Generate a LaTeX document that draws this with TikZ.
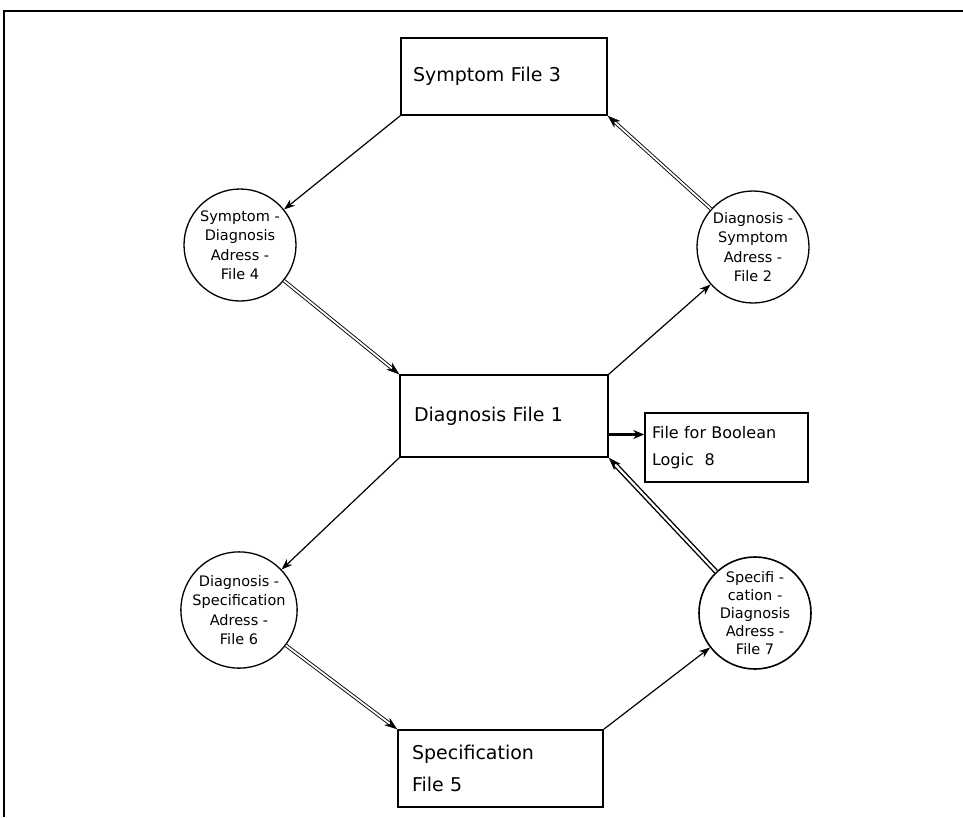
\documentclass[tikz,border=0pt]{standalone}
\usepackage{fontspec}
\setmainfont{DejaVu Sans}
\usetikzlibrary{arrows.meta,decorations.markings}
\begin{document}
\begin{tikzpicture}[x=1pt,y=-1pt,
  box/.style={draw, line width=1.5pt, rectangle, inner ysep=0pt, align=left},
  bigtxt/.style={font=\fontsize{19}{32}\selectfont},
  file/.style={draw, circle, line width=1.3pt, inner sep=0pt, minimum size=112pt, align=center, font=\fontsize{14.5}{19.5}\selectfont},
  arr/.style={line width=1.2pt, -{Stealth[length=11pt,width=8pt]}},
  dbl/.style={draw, double, double distance=1.8pt, line width=0.9pt, shorten >=8pt},
  dtip/.style={decoration={markings, mark=at position 1 with {\arrow{Stealth[length=13pt,width=9pt]}}}, postaction={decorate}},
]
\useasboundingbox (0,0) rectangle (963,817);
\draw[line width=1.2pt] (4,817) -- (4,11) -- (963,11);

% boxes
\node[box, bigtxt, inner xsep=12pt, minimum width=206pt, minimum height=77pt, text width=182pt] (s3) at (504,76.5) {Symptom File 3};
\node[box, bigtxt, inner xsep=14pt, minimum width=208pt, minimum height=82pt, text width=180pt] (d1) at (504,416) {Diagnosis File 1};
\node[box, bigtxt, inner xsep=14pt, minimum width=205pt, minimum height=77pt, text width=177pt] (s5) at (500.5,768.5) {Specification\\File 5};
\node[box, inner xsep=7pt, minimum width=163pt, minimum height=69pt, text width=149pt, font=\fontsize{16}{27}\selectfont] (b8) at (726.5,447.5) {File for Boolean\\Logic\ \ 8};

% circles
\node[file] (c4) at (240,245) {Symptom -\\Diagnosis\\Adress -\\File 4};
\node[file] (c2) at (753,247) {Diagnosis -\\Symptom\\Adress -\\File 2};
\node[file] (c6) at (239,610) {Diagnosis -\\Specification\\Adress -\\File 6};
\node[file, line width=1.6pt, font=\fontsize{14.5}{18}\selectfont] (c7) at (755,613) {Specifi -\\cation -\\Diagnosis\\Adress -\\File 7};

% connectors
\draw[arr] (s3.south west) -- (c4);
\draw[dbl] (c4) -- (d1.north west);
\path[dtip] (c4) -- (d1.north west);
\draw[arr] (d1.north east) -- (c2);
\draw[dbl] (c2) -- (s3.south east);
\path[dtip] (c2) -- (s3.south east);
\draw[arr] (d1.south west) -- (c6);
\draw[dbl] (c6) -- (s5.north west);
\path[dtip] (c6) -- (s5.north west);
\draw[arr] (s5.north east) -- (c7);
\draw[dbl, line width=1.4pt, double distance=2.2pt] (c7) -- (d1.south east);
\path[dtip] (c7) -- (d1.south east);
\draw[line width=2.2pt, -{Stealth[length=11pt,width=9pt]}] ([yshift=13pt]b8.west -| d1.east) -- ([yshift=13pt]b8.west);
\end{tikzpicture}
\end{document}
